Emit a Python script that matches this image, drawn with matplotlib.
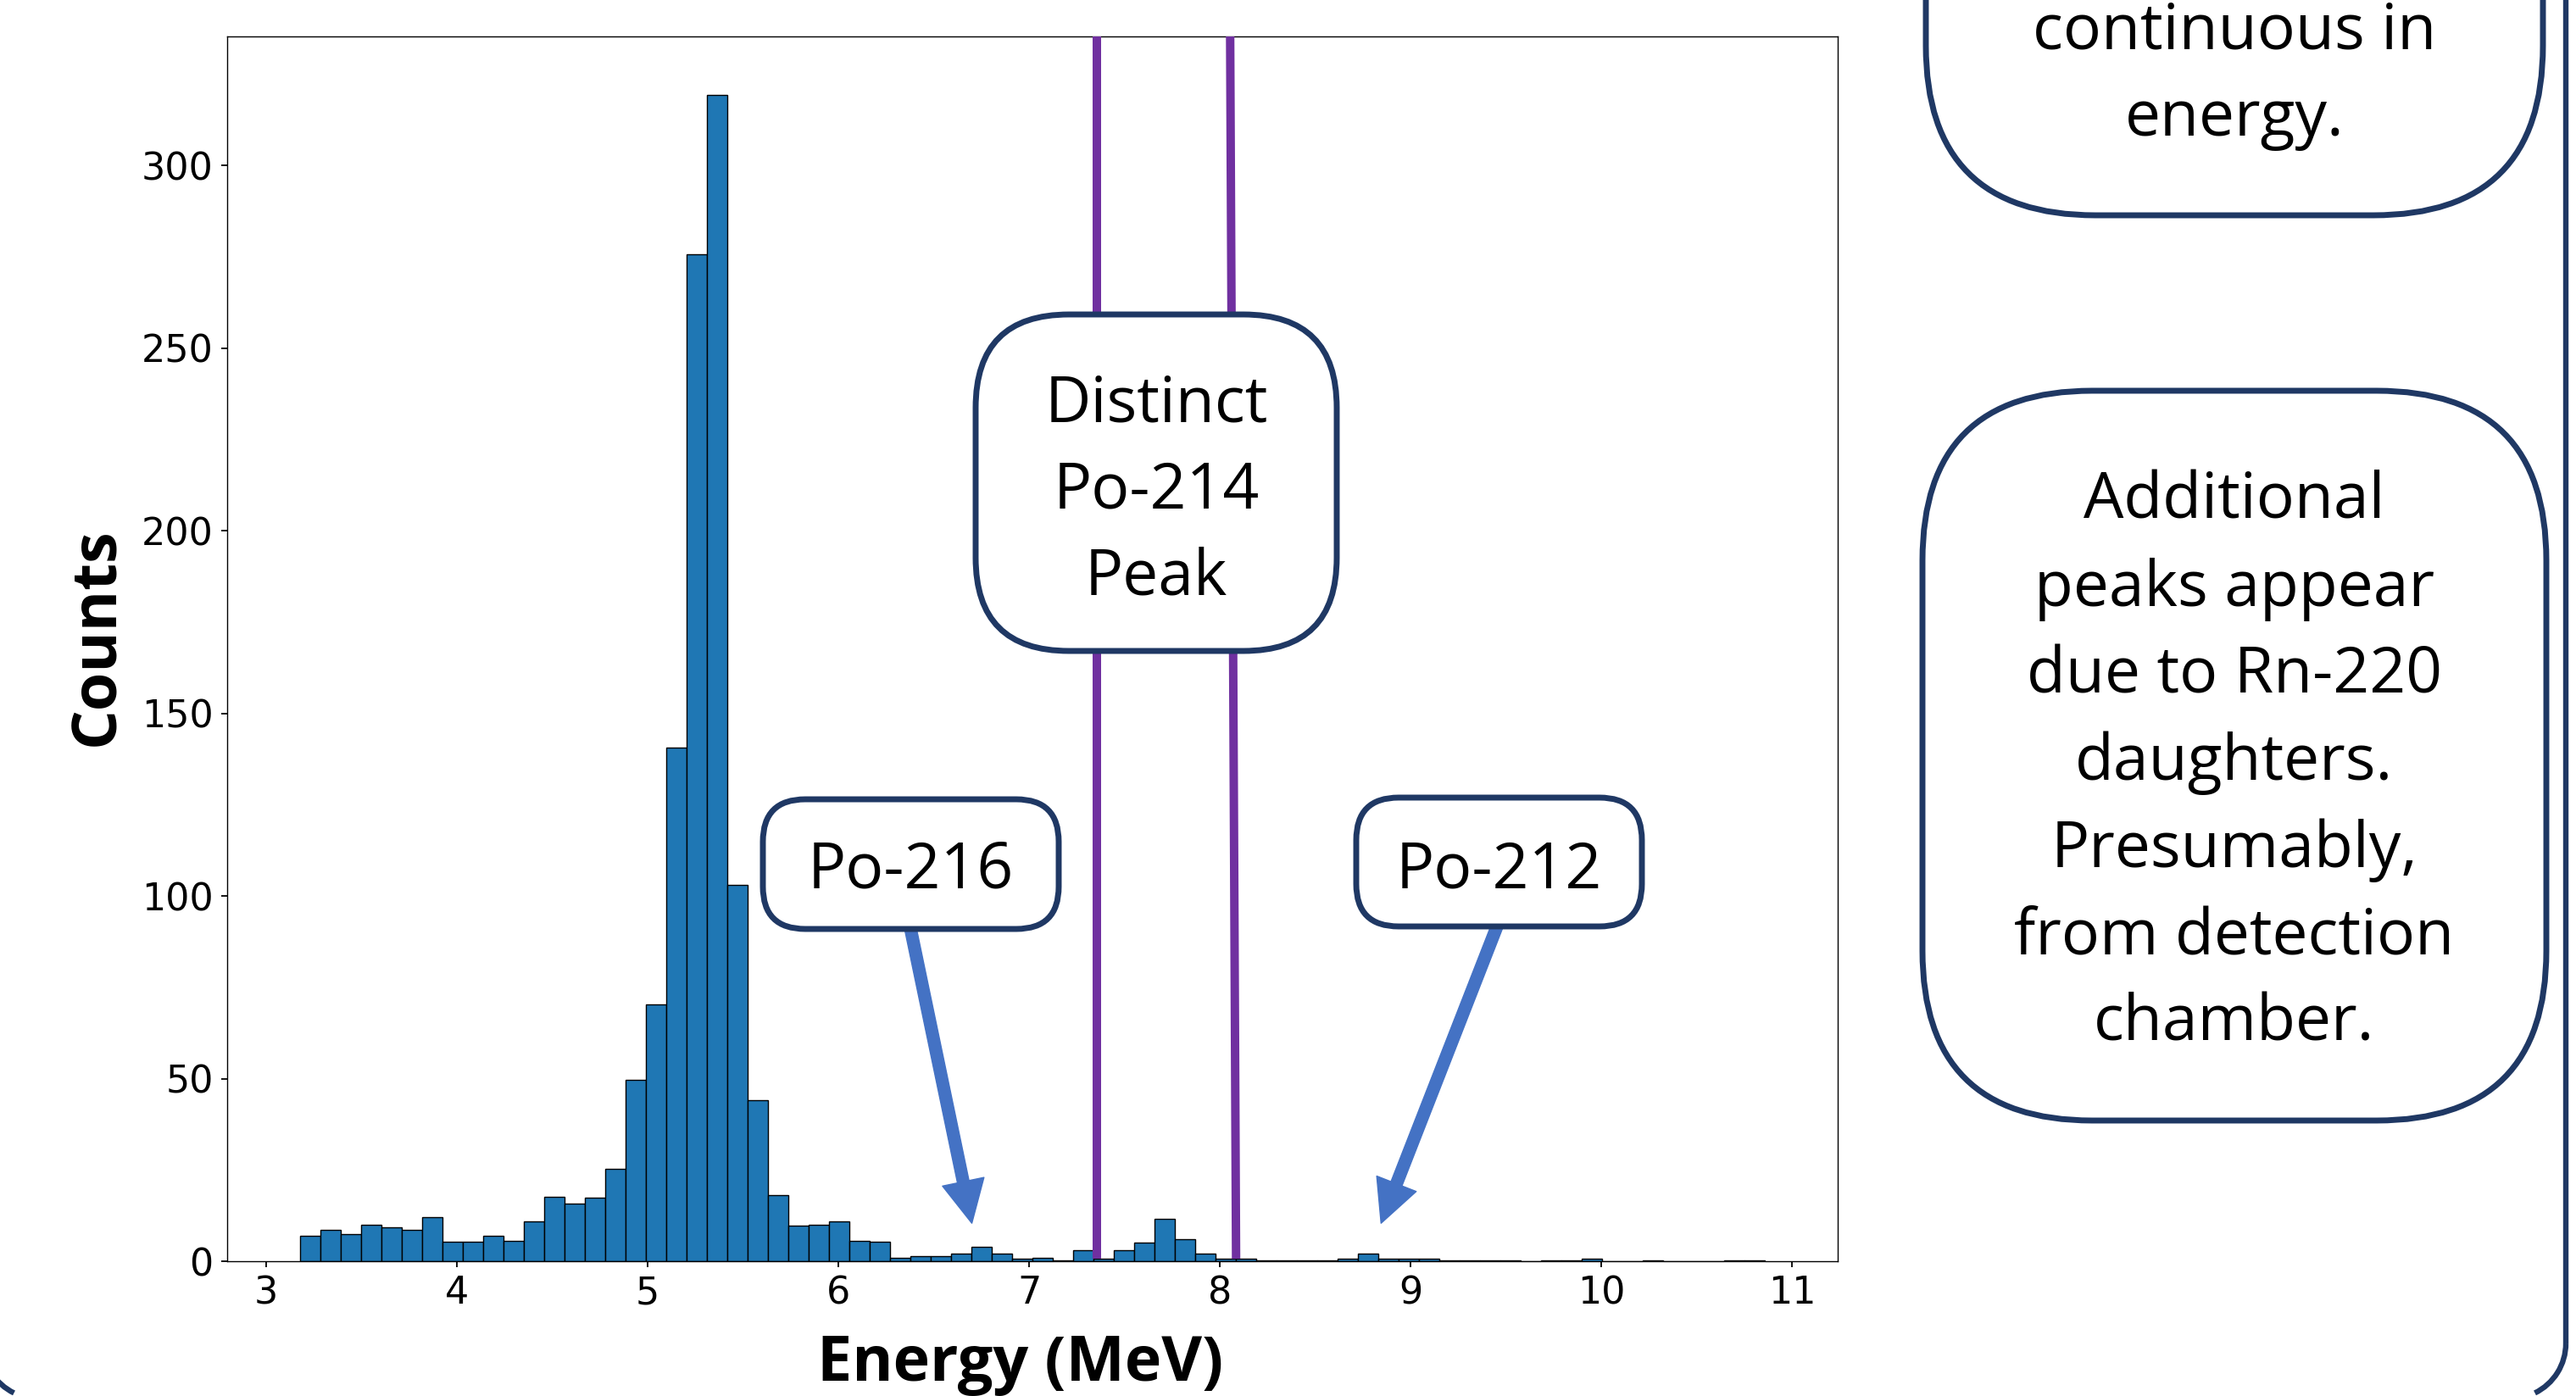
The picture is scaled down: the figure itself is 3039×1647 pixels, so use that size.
import numpy as np
import matplotlib
matplotlib.use("Agg")
import matplotlib.pyplot as plt
from matplotlib.patches import FancyBboxPatch, Arc
from matplotlib.transforms import blended_transform_factory

# ---------------- data ----------------
bin_start = 3.18          # MeV, left edge of first bin
bin_stop = 10.855         # MeV, right edge of last bin
n_bins = 72
counts = [7.0, 8.67, 7.33, 10.0, 9.33, 8.67, 12.0, 5.33, 5.33, 7.0,
          5.67, 11.0, 17.67, 15.67, 17.33, 25.33, 49.67, 70.33, 140.67, 275.67,
          319.33, 103.0, 44.0, 18.0, 9.67, 10.0, 11.0, 5.67, 5.33, 1.0,
          1.33, 1.33, 2.0, 4.0, 2.0, 0.67, 1.0, 0.33, 3.0, 0.67,
          3.0, 5.0, 11.67, 6.0, 2.0, 0.67, 0.67, 0.33, 0.33, 0.33,
          0.33, 0.67, 2.0, 0.67, 0.67, 0.67, 0.33, 0.33, 0.33, 0.33,
          0.0, 0.33, 0.33, 0.67, 0.0, 0.0, 0.33, 0.0, 0.0, 0.0,
          0.33, 0.33]
x_ticks = [3, 4, 5, 6, 7, 8, 9, 10, 11]
y_ticks = [0, 50, 100, 150, 200, 250, 300]
# Po-214 window markers (energy at bottom, energy at top)
po214_left = [7.355, 7.355]
po214_right = [8.085, 8.054]
# arrow targets (energy, counts)
po216_target = (6.70, 10.4)
po212_target = (8.845, 10.4)

x_label = "Energy (MeV)"
y_label = "Counts"
box_right_top = ["continuous in", "energy."]
box_right_bottom = ["Additional", "peaks appear", "due to Rn-220", "daughters.",
                    "Presumably,", "from detection", "chamber."]
box_po214 = ["Distinct", "Po-214", "Peak"]

# ---------------- style ----------------
W, H, DPI = 3039, 1647, 100
NAVY = "#1F3864"
PURPLE = "#7030A0"
ARROW = "#4472C4"
BAR = "#1f77b4"
BOXFONT = "Open Sans"

fig = plt.figure(figsize=(W / DPI, H / DPI), dpi=DPI, facecolor="white")

ax_l, ax_r, ax_t, ax_b = 268, 2168, 43, 1488
ax = fig.add_axes([ax_l / W, 1 - ax_b / H, (ax_r - ax_l) / W, (ax_b - ax_t) / H])

edges = np.linspace(bin_start, bin_stop, n_bins + 1)
centers = 0.5 * (edges[:-1] + edges[1:])
ax.hist(centers, bins=edges, weights=counts, color=BAR, edgecolor="black",
        linewidth=1.0)

ax.set_xticks(x_ticks)
ax.set_yticks(y_ticks)
ax.tick_params(labelsize=32, length=4.75, width=1.3, pad=7)
for s in ax.spines.values():
    s.set_linewidth(1.0)

ax.set_xlabel(x_label, fontfamily="Open Sans", fontweight="bold", fontsize=53)
ax.xaxis.set_label_coords((1204 - ax_l) / (ax_r - ax_l), (ax_b - 1629) / (ax_b - ax_t))
ax.xaxis.label.set_verticalalignment("baseline")
ax.set_ylabel(y_label, fontfamily="Open Sans", fontweight="bold", fontsize=53)
ax.yaxis.set_label_coords((134 - ax_l) / (ax_r - ax_l), (ax_b - 751) / (ax_b - ax_t))
ax.yaxis.label.set_verticalalignment("baseline")

# purple Po-214 window lines
trans = blended_transform_factory(ax.transData, ax.transAxes)
for xs in (po214_left, po214_right):
    ax.plot(xs, [0.002, 1.0], transform=trans, color=PURPLE, lw=7.2,
            solid_capstyle="butt", clip_on=False, zorder=3,
            scalex=False, scaley=False)

# ---------------- overlay (slide annotations, pixel coordinates) ----------------
ov = fig.add_axes([0, 0, 1, 1], zorder=5)
ov.set_xlim(0, W)
ov.set_ylim(H, 0)
ov.axis("off")


def box(l, t, r, b, rad, lw=5.0, z=3):
    p = FancyBboxPatch((l, t), r - l, b - t,
                       boxstyle=f"round,pad=0,rounding_size={rad}",
                       fc="white", ec=NAVY, lw=lw, zorder=z)
    ov.add_patch(p)


def lines(cx, baselines, texts, size=54):
    for y, s in zip(baselines, texts):
        ov.text(cx, y, s, ha="center", va="baseline", fontsize=size,
                family=BOXFONT, color="black", zorder=4)


# outer slide frame: only the right edge and the two bottom corners are visible
fr_l, fr_r, fr_b, rr = -20, 3027, 1650, 65
ov.plot([fr_r, fr_r], [0, fr_b - rr], color=NAVY, lw=4.6,
        solid_capstyle="butt", zorder=1)
ov.add_patch(Arc((fr_r - rr, fr_b - rr), 2 * rr, 2 * rr, theta1=0, theta2=64,
                 color=NAVY, lw=4.6, zorder=1))
ov.add_patch(Arc((fr_l + rr, fr_b - rr), 2 * rr, 2 * rr, theta1=116, theta2=180,
                 color=NAVY, lw=4.6, zorder=1))

# arrows
arrow_kw = dict(width=10, headwidth=36, headlength=36, color=ARROW, shrink=0)
ov.annotate("", xy=po216_target, xycoords=ax.transData, xytext=(1073, 1090),
            textcoords="data", arrowprops=arrow_kw, zorder=2)
ov.annotate("", xy=po212_target, xycoords=ax.transData, xytext=(1768, 1088),
            textcoords="data", arrowprops=arrow_kw, zorder=2)

# boxes
box(1151, 371, 1577, 768, 110)
lines(1364, [497, 599, 701], box_po214)

box(900, 943, 1249, 1096, 50)
lines(1074.5, [1047], ["Po-216"])

box(1600, 941, 1937, 1093, 50)
lines(1768.5, [1047], ["Po-212"])

box(2272, -400, 3000, 254, 200)
lines(2636, [58, 160], box_right_top)

box(2268, 461, 3004, 1322, 200)
lines(2636, [612, 715, 817, 920, 1023, 1125, 1228], box_right_bottom)

fig.savefig("out.png", dpi=DPI, facecolor="white")
